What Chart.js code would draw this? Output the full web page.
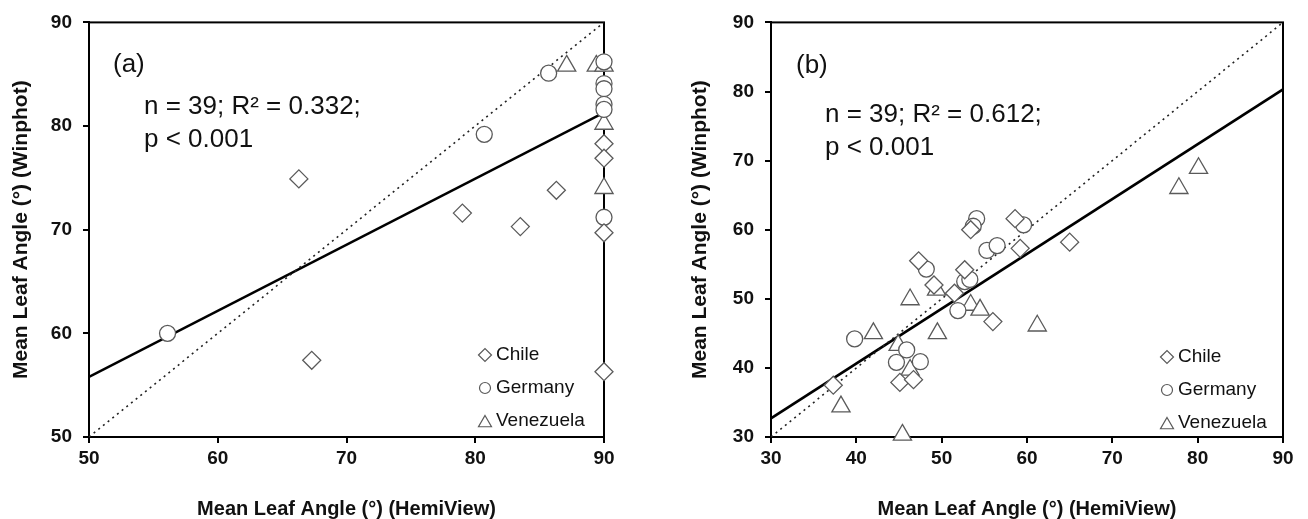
<!DOCTYPE html>
<html>
<head>
<meta charset="utf-8">
<script src="https://cdn.jsdelivr.net/npm/chart.js@4"></script>
<style>
  html, body { margin: 0; padding: 0; background: #fff; }
  #wrap { position: relative; width: 1308px; height: 519px; overflow: hidden; }
  .panel { position: absolute; top: 0; }
</style>
</head>
<body>
<div id="wrap">
  <div class="panel" style="left:0"><canvas id="chartA" width="650" height="519"></canvas></div>
  <div class="panel" style="left:650px"><canvas id="chartB" width="658" height="519"></canvas></div>
</div>
<script>
// panel (a)
const chileAx = [66.3, 67.3, 79.0, 83.5, 86.3, 90, 90, 90, 90];
const chileAy = [74.9, 57.4, 71.6, 70.3, 73.8, 78.3, 76.9, 69.7, 56.3];
const germanyAx = [56.1, 80.7, 85.7, 90, 90, 90, 90, 90, 90];
const germanyAy = [60.0, 79.2, 85.1, 86.2, 84.1, 83.6, 82.1, 81.6, 71.2];
const venezuelaAx = [87.1, 89.4, 90, 90, 90];
const venezuelaAy = [85.8, 85.8, 85.8, 80.2, 74.0];
const fitAx = [50, 90];
const fitAy = [55.8, 81.3];
const oneToOneAx = [50, 90];

// panel (b)
const chileBx = [37.3, 47.3, 45.1, 46.7, 49.1, 51.5, 52.7, 53.4, 58.6, 59.2, 56.0, 65.0];
const chileBy = [37.5, 55.5, 37.9, 38.3, 52.0, 50.8, 54.2, 60.0, 61.6, 57.3, 46.7, 58.2];
const germanyBx = [39.8, 48.2, 45.9, 44.7, 47.5, 51.9, 52.7, 53.3, 54.1, 53.7, 55.3, 56.5, 59.6];
const germanyBy = [44.2, 54.3, 42.6, 40.8, 40.9, 48.3, 52.5, 52.8, 61.6, 60.5, 57.0, 57.7, 60.7];
const venezuelaBx = [38.2, 42.0, 46.3, 44.9, 46.3, 49.4, 49.5, 53.4, 54.5, 45.4, 80.1, 77.8, 61.2];
const venezuelaBy = [34.4, 45.0, 49.9, 43.3, 39.7, 51.3, 45.0, 49.1, 48.4, 30.3, 68.9, 66.0, 46.1];
const fitBx = [30, 90];
const fitBy = [32.7, 80.3];
const oneToOneBx = [30, 90];

const tickA = [50, 60, 70, 80, 90];
const tickB = [30, 40, 50, 60, 70, 80, 90];
const countries = ["Chile", "Germany", "Venezuela"];

const FONT = "'Liberation Sans', Arial, sans-serif";
const markerColor = "#5a5a5a";
const styles = ["rectRot", "circle", "triangle"];
const radii = [9, 8, 10.5];

function pts(xs, ys) {
  return xs.map((x, i) => ({ x: x, y: ys[i] }));
}

function markerSet(label, xs, ys, k) {
  return {
    type: "scatter",
    label: label,
    data: pts(xs, ys),
    pointStyle: styles[k],
    pointRadius: radii[k],
    pointHoverRadius: radii[k],
    pointBackgroundColor: "#fff",
    pointBorderColor: markerColor,
    pointBorderWidth: 1.3,
    clip: false,
    order: 1,
  };
}

function lineSet(xs, ys, dashed) {
  return {
    type: "line",
    data: pts(xs, ys),
    borderColor: dashed ? "#222" : "#000",
    borderWidth: dashed ? 1.6 : 2.6,
    borderDash: dashed ? [2, 4] : [],
    pointRadius: 0,
    fill: false,
    order: 2,
  };
}

// frame, labels and legend inside the plot
const panelDecor = {
  id: "panelDecor",
  beforeDatasetsDraw(chart) {
    const { ctx, chartArea: a } = chart;
    ctx.save();
    ctx.strokeStyle = "#000";
    ctx.lineWidth = 2;
    ctx.strokeRect(a.left, a.top, a.right - a.left, a.bottom - a.top);
    ctx.restore();
  },
  afterDatasetsDraw(chart, args, opts) {
    const { ctx } = chart;
    ctx.save();
    ctx.fillStyle = "#111";
    ctx.textBaseline = "alphabetic";
    ctx.font = "26px " + FONT;
    ctx.fillText(opts.tag, opts.tagX, opts.tagY);
    ctx.fillText(opts.line1, opts.textX, opts.line1Y);
    ctx.fillText(opts.line2, opts.textX, opts.line2Y);

    // legend
    ctx.font = "19px " + FONT;
    ctx.textBaseline = "middle";
    countries.forEach((name, k) => {
      const y = opts.legY + k * opts.legGap;
      ctx.strokeStyle = markerColor;
      ctx.fillStyle = "#fff";
      ctx.lineWidth = 1.2;
      Chart.helpers.drawPoint(ctx, {
        pointStyle: styles[k],
        radius: [6.5, 5.5, 7.5][k],
        borderWidth: 1.2,
        rotation: 0,
      }, opts.legX, y + (k === 2 ? 2 : 0));
      ctx.fillStyle = "#111";
      ctx.fillText(name, opts.legX + 11, y);
    });
    ctx.restore();
  },
};

function axis(min, max, ticks, title, width, height, titlePad) {
  return {
    type: "linear",
    min: min,
    max: max,
    afterBuildTicks: (s) => { s.ticks = ticks.map((v) => ({ value: v })); },
    afterFit: (s) => {
      if (width) s.width = width;
      if (height) s.height = height;
    },
    ticks: {
      color: "#111",
      font: { family: FONT, size: 19, weight: "bold" },
      padding: width ? 11 : 4,
    },
    grid: {
      drawOnChartArea: false,
      drawTicks: true,
      tickLength: 6,
      color: "#000",
      lineWidth: 2,
    },
    border: { display: true, color: "#000", width: 2 },
    title: {
      display: true,
      text: title,
      color: "#111",
      font: { family: FONT, size: width ? 21 : 20, weight: "bold" },
      padding: titlePad,
    },
  };
}

function makeChart(id, sets, xr, yr, xt, yt, yWidth, rightPad, yTitleTop, decor) {
  return new Chart(document.getElementById(id), {
    data: { datasets: sets },
    options: {
      responsive: false,
      animation: false,
      layout: { padding: { top: 22, right: rightPad, left: 0, bottom: 0 } },
      plugins: {
        legend: { display: false },
        tooltip: { enabled: false },
        panelDecor: decor,
      },
      scales: {
        x: axis(xr[0], xr[1], xt, "Mean Leaf Angle (°) (HemiView)", 0, 82, { top: 0, bottom: -2 }),
        y: axis(yr[0], yr[1], yt, "Mean Leaf Angle (°) (Winphot)", yWidth, 0, { top: yTitleTop, bottom: 0 }),
      },
    },
    plugins: [panelDecor],
  });
}

makeChart("chartA", [
  lineSet(oneToOneAx, oneToOneAx, true),
  lineSet(fitAx, fitAy, false),
  markerSet("Chile", chileAx, chileAy, 0),
  markerSet("Germany", germanyAx, germanyAy, 1),
  markerSet("Venezuela", venezuelaAx, venezuelaAy, 2),
], [50, 90], [50, 90], tickA, tickA, 89, 46, 9, {
  tag: "(a)", tagX: 113, tagY: 72,
  line1: "n = 39; R² = 0.332;", line2: "p < 0.001",
  textX: 144, line1Y: 114, line2Y: 147,
  legX: 485, legY: 355, legGap: 33,
});

makeChart("chartB", [
  lineSet(oneToOneBx, oneToOneBx, true),
  lineSet(fitBx, fitBy, false),
  markerSet("Chile", chileBx, chileBy, 0),
  markerSet("Germany", germanyBx, germanyBy, 1),
  markerSet("Venezuela", venezuelaBx, venezuelaBy, 2),
], [30, 90], [30, 90], tickB, tickB, 121, 25, 38, {
  tag: "(b)", tagX: 146, tagY: 73,
  line1: "n = 39; R² = 0.612;", line2: "p < 0.001",
  textX: 175, line1Y: 122, line2Y: 155,
  legX: 517, legY: 357, legGap: 33,
});
</script>
</body>
</html>
